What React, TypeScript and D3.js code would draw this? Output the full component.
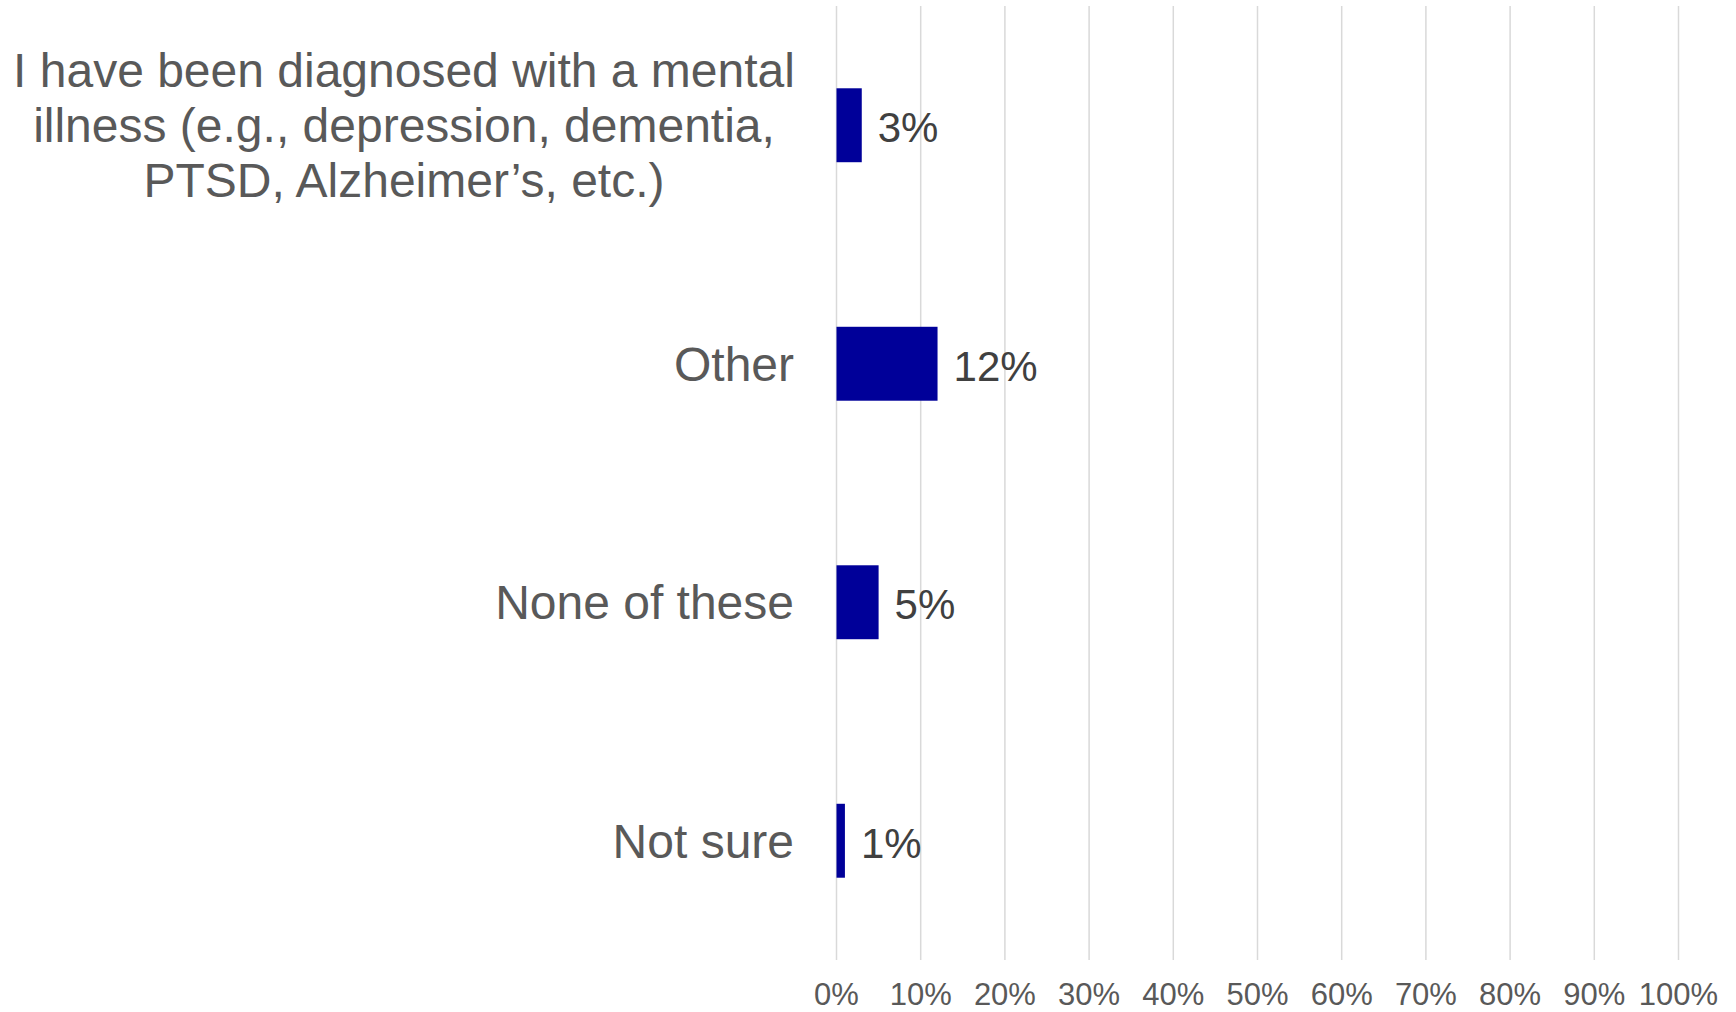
import React from "react";
import * as d3 from "d3";

const categories: string[][] = [
  ["I have been diagnosed with a mental", "illness (e.g., depression, dementia,", "PTSD, Alzheimer’s, etc.)"],
  ["Other"],
  ["None of these"],
  ["Not sure"],
];
const values: number[] = [0.03, 0.12, 0.05, 0.01];
const valueLabels: string[] = ["3%", "12%", "5%", "1%"];
const ticks: number[] = [0, 0.1, 0.2, 0.3, 0.4, 0.5, 0.6, 0.7, 0.8, 0.9, 1.0];

const W = 1736;
const H = 1012;
const FONT = "'Liberation Sans', Arial, sans-serif";

export default function App() {
  const x = d3.scaleLinear().domain([0, 1]).range([836.5, 1678.5]);
  const y = d3
    .scaleBand<number>()
    .domain(d3.range(categories.length))
    .range([6, 960])
    .paddingInner(0.69)
    .paddingOuter(0.345);
  const fmt = d3.format(".0%");
  const lineH = 54.8;

  return (
    <svg
      width={W}
      height={H}
      style={{ position: "absolute", left: 0, top: 0, background: "#fff" }}
      fontFamily={FONT}
    >
      {ticks.map((t) => (
        <g key={t}>
          <line x1={x(t)} x2={x(t)} y1={6} y2={960} stroke="#d9d9d9" strokeWidth={1.5} />
          <text x={x(t)} y={1004.5} textAnchor="middle" fontSize={31} fill="#595959">
            {fmt(t)}
          </text>
        </g>
      ))}
      {values.map((v, i) => {
        const cy = (y(i) as number) + y.bandwidth() / 2;
        const lines = categories[i];
        return (
          <g key={i}>
            <rect x={x(0)} y={y(i)} width={x(v) - x(0)} height={y.bandwidth()} fill="#000099" />
            <text
              x={x(v) + 16}
              y={cy + 2}
              dy="0.36em"
              fontSize={42}
              fill="#404040"
            >
              {valueLabels[i]}
            </text>
            <text textAnchor="middle" fontSize={48} fill="#595959">
              {lines.map((l, j) => (
                <tspan
                  key={j}
                  x={lines.length > 1 ? 404 : 794}
                  textAnchor={lines.length > 1 ? "middle" : "end"}
                  y={cy + (j - (lines.length - 1) / 2) * lineH}
                  dy="0.35em"
                >
                  {l}
                </tspan>
              ))}
            </text>
          </g>
        );
      })}
    </svg>
  );
}
